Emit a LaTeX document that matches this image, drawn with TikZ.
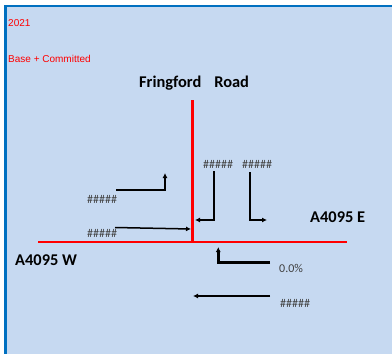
\documentclass[tikz,border=0pt]{standalone}
\usepackage{fontspec}
\setmainfont{Carlito}
\newfontfamily\arialfont{Liberation Sans}
\usetikzlibrary{arrows.meta}
\definecolor{bgblue}{HTML}{C6D9F1}
\definecolor{frameblue}{HTML}{0070C0}
\definecolor{roadred}{HTML}{FF0000}
\definecolor{numgray}{HTML}{404040}
\begin{document}
\begin{tikzpicture}[x=1pt,y=-1pt,
  road/.style={roadred, line width=2.6pt},
  thickarr/.style={black, line width=2.5pt, -{Latex[length=5pt,width=5pt]}},
  medarr/.style={black, line width=1.8pt, -{Latex[length=5pt,width=5pt]}},
  thinarr/.style={black, line width=1.5pt, -{Latex[length=5pt,width=5pt]}},
  redtxt/.style={inner sep=0pt, text=roadred, font=\arialfont\fontsize{10}{12}\selectfont},
  roadname/.style={inner sep=0pt, text=black, font=\bfseries\fontsize{16.4}{18}\selectfont},
  numtxt/.style={inner sep=0pt, text=numgray, font=\fontsize{12}{14}\selectfont}]
\useasboundingbox (0,0) rectangle (392,354);
\fill[white] (0,0) rectangle (392,354);
\fill[bgblue] (5.5,6) rectangle (392,354);
\draw[frameblue, line width=2.6pt] (5.5,354) -- (5.5,6) -- (392,6);

% titles
\node[redtxt, anchor=west] (year) at (8,23) {2021};
\node[redtxt, anchor=west] (scen) at (8,59) {Base + Committed};
\node[roadname, anchor=base west] (north) at (139,87.7) {Fringford\hspace{13pt}Road};
\node[roadname, anchor=base west] (west) at (15,265) {A4095 W};
\node[roadname, anchor=base west] (east) at (310,222.3) {A4095 E};

% roads
\coordinate (rw) at (38,242);
\coordinate (re) at (347,242);
\coordinate (rn) at (192.3,100);
\coordinate (rj) at (192.3,242);
\draw[road] (rw) -- (re);
\draw[road] (rn) -- (rj);

% flow labels
\node[numtxt, anchor=base west] (l1) at (87,203) {\#\#\#\#\#};
\node[numtxt, anchor=base west] (l2) at (87,237.5) {\#\#\#\#\#};
\node[numtxt, anchor=base west] (l3) at (203,168) {\#\#\#\#\#};
\node[numtxt, anchor=base west] (l4) at (242,168) {\#\#\#\#\#};
\node[numtxt, anchor=base west] (l5) at (279,272) {0.0\%};
\node[numtxt, anchor=base west] (l6) at (280,307) {\#\#\#\#\#};

% flow arrows
\coordinate (a1s) at (116,190); \coordinate (a1c) at (165,190); \coordinate (a1e) at (165,173);
\draw[thickarr] (a1s) -- (a1c) -- (a1e);
\coordinate (a2s) at (115,227.5); \coordinate (a2e) at (191,229);
\draw[thinarr] (a2s) -- (a2e);
\coordinate (a3s) at (214,171); \coordinate (a3c) at (214,220); \coordinate (a3e) at (195,220);
\draw[medarr] (a3s) -- (a3c) -- (a3e);
\coordinate (a4s) at (250,172); \coordinate (a4c) at (250,220); \coordinate (a4e) at (267,220);
\draw[thickarr] (a4s) -- (a4c) -- (a4e);
\coordinate (a5s) at (270,262.3); \coordinate (a5c) at (218.3,262.3); \coordinate (a5e) at (218.3,247);
\draw[thickarr] (a5s) -- (a5c) -- (a5e);
\coordinate (a6s) at (270,296); \coordinate (a6e) at (193,296);
\draw[thinarr] (a6s) -- (a6e);
\end{tikzpicture}
\end{document}
